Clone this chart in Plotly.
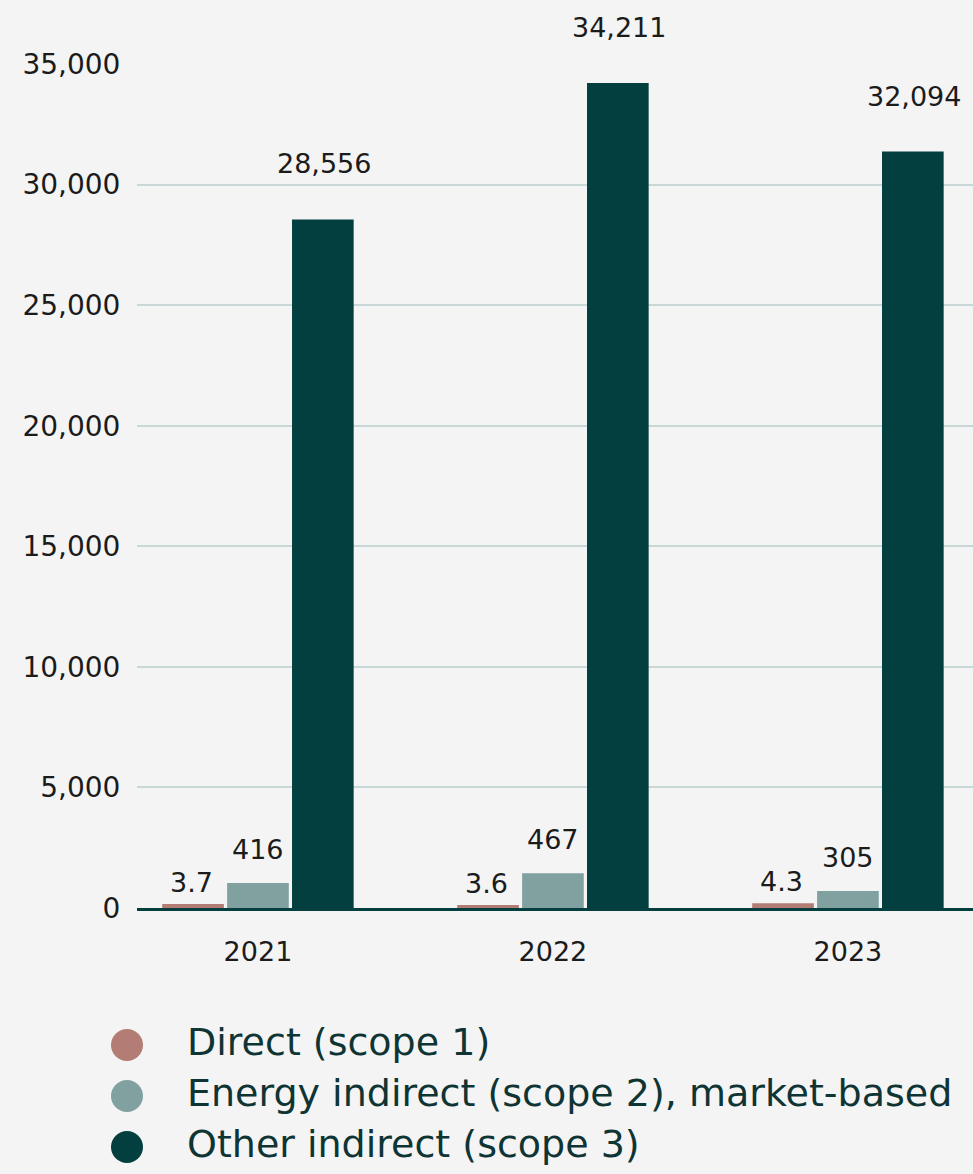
import plotly.graph_objects as go

# values
years = ["2021", "2022", "2023"]
series_names = ["Direct (scope 1)", "Energy indirect (scope 2), market-based", "Other indirect (scope 3)"]
scope1_bar = [165, 124, 200]
scope2_bar = [1035, 1445, 700]
scope3_bar = [28556, 34211, 31370]
scope1_labels = ["3.7", "3.6", "4.3"]
scope2_labels = ["416", "467", "305"]
scope3_labels = ["28,556", "34,211", "32,094"]
y_ticks = [0, 5000, 10000, 15000, 20000, 25000, 30000, 35000]

colors = ["#b37c75", "#80a19f", "#033f3e"]
bg = "#f4f4f4"
font_name = "DejaVu Sans"

W, H = 973, 1174
TOP = 64
fig = go.Figure()

bars = [scope1_bar, scope2_bar, scope3_bar]
labels = [scope1_labels, scope2_labels, scope3_labels]
for name, vals, col in zip(series_names, bars, colors):
    fig.add_trace(go.Bar(x=years, y=vals, name=name, marker_color=col,
                         marker_line_width=0, showlegend=False))

# value labels above the bars
shifts = [4, 16, 38]
for k in range(3):
    for i in range(len(years)):
        fig.add_annotation(x=i, y=bars[k][i], text=labels[k][i], showarrow=False,
                           xref="x", yref="y", yanchor="bottom",
                           xshift=(k - 1) * 66, yshift=shifts[k],
                           font=dict(family=font_name, size=27, color="#1b1b1b"))

# custom legend with big round markers (rows 51 px apart, first at y=1045)
rows = list(range(len(series_names)))
fig.add_trace(go.Scatter(x=[127] * 3, y=rows, mode="markers", xaxis="x2", yaxis="y2",
                         marker=dict(size=32, color=colors), showlegend=False,
                         cliponaxis=False, hoverinfo="skip"))
fig.add_trace(go.Scatter(x=[187] * 3, y=rows, mode="text", text=series_names,
                         textposition="middle right", xaxis="x2", yaxis="y2",
                         textfont=dict(family=font_name, size=38, color="#0f3434"),
                         showlegend=False, cliponaxis=False, hoverinfo="skip"))

paper_h = H - TOP
y_dom0 = (H - 908) / paper_h
leg_top = H - 0.2 * paper_h
fig.update_layout(
    width=W, height=H, autosize=False,
    margin=dict(l=0, r=0, t=TOP, b=0),
    paper_bgcolor=bg, plot_bgcolor=bg,
    barmode="group", bargap=0.34, bargroupgap=0.05,
    font=dict(family=font_name, size=27, color="#1b1b1b"),
    xaxis=dict(domain=[137 / W, 1], range=[-0.41, 2.424], type="category",
               showgrid=False, showline=True, linecolor="#033f3e", linewidth=3,
               ticks="outside", ticklen=18, tickcolor="rgba(0,0,0,0)",
               tickfont=dict(size=27), automargin=False),
    yaxis=dict(domain=[y_dom0, 1], range=[0, 35000], tickvals=y_ticks,
               tickformat=",", showgrid=True, gridcolor="#c9d8d6", gridwidth=1.5,
               zeroline=False, showline=False, ticks="outside", ticklen=10,
               tickcolor="rgba(0,0,0,0)", tickfont=dict(size=28), automargin=False),
    xaxis2=dict(domain=[0, 1], range=[0, W], visible=False, anchor="y2", automargin=False),
    yaxis2=dict(domain=[0, 0.2], range=[(H - 1045) / 51, -(1045 - leg_top) / 51],
                visible=False, anchor="x2", automargin=False),
)

page_js = """
document.body.style.margin = '0';
document.body.style.overflow = 'hidden';
"""
fig.write_html("out.html", config={"displayModeBar": False, "responsive": False},
               post_script=page_js)
